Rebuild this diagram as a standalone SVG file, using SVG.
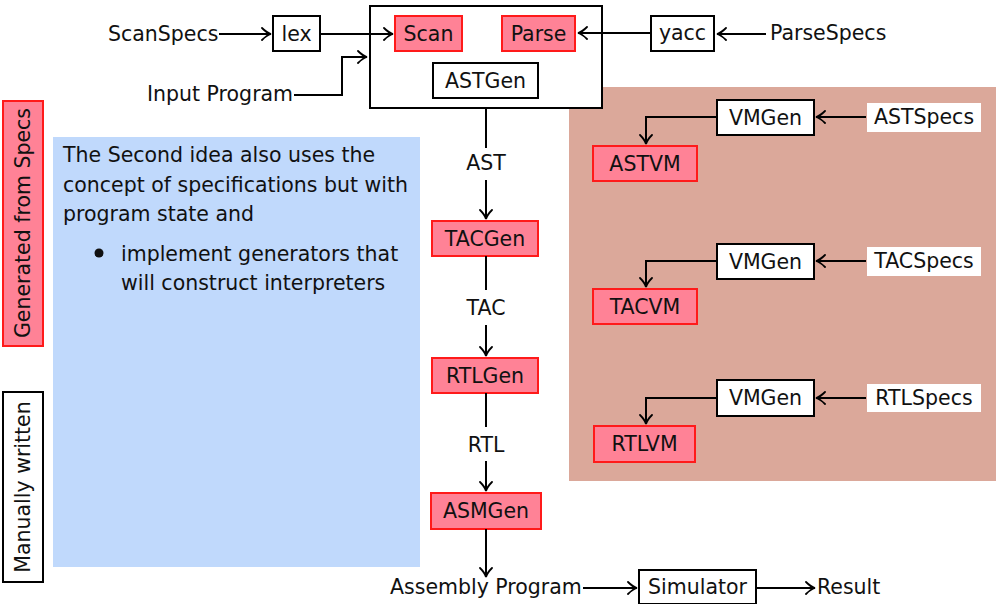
<svg xmlns="http://www.w3.org/2000/svg" width="996" height="604" viewBox="0 0 996 604">
<defs>
<marker id="arr" viewBox="-11 -7 13 14" refX="0" refY="0" markerWidth="13" markerHeight="14" markerUnits="userSpaceOnUse" orient="auto">
<path d="M-9,-6 Q-4,-1 0,0 Q-4,1 -9,6" fill="none" stroke="#000" stroke-width="1.8" stroke-linecap="round"/>
</marker>
</defs>
<style>
text{font-family:"DejaVu Sans","Liberation Sans",sans-serif;font-size:20.5px;fill:#111}
.c{text-anchor:middle}
.pink{fill:#FF8296;stroke:#FF1A1A;stroke-width:2}
.wbox{fill:#fff;stroke:#000;stroke-width:2}
.ln{fill:none;stroke:#000;stroke-width:2}
.ar{fill:none;stroke:#000;stroke-width:2;marker-end:url(#arr)}
</style>
<rect width="996" height="604" fill="#fff"/>

<g id="brown-region"><rect x="569" y="87" width="427" height="394" fill="#DBA89A"/></g>
<g id="blue-note">
<rect x="53" y="137" width="367" height="430" fill="#C0D9FC"/>
<text x="63" y="162">The Second idea also uses the</text>
<text x="63" y="192">concept of specifications but with</text>
<text x="63" y="221">program state and</text>
<circle cx="99" cy="253" r="4.5" fill="#111"/>
<text x="121" y="261">implement generators that</text>
<text x="121" y="290">will construct interpreters</text>
</g>

<g id="legend-generated">
<rect x="3" y="101" width="40" height="245" class="pink"/>
<text class="c" transform="translate(30,223) rotate(-90)">Generated from Specs</text>
</g>
<g id="legend-manual">
<rect x="3" y="392" width="40" height="190" class="wbox"/>
<text class="c" transform="translate(30,487) rotate(-90)">Manually written</text>
</g>

<g id="frontend">
<rect x="370" y="6" width="232" height="102" class="wbox"/>
</g>
<g id="scan"><rect x="395" y="16" width="67" height="35" class="pink"/><text class="c" x="428.5" y="41">Scan</text></g>
<g id="parse"><rect x="502" y="16" width="73" height="35" class="pink"/><text class="c" x="538.5" y="41">Parse</text></g>
<g id="astgen"><rect x="433" y="63" width="105" height="35" class="wbox"/><text class="c" x="485.5" y="88">ASTGen</text></g>
<g id="lex"><rect x="273" y="16" width="47" height="35" class="wbox"/><text class="c" x="296.5" y="41">lex</text></g>
<g id="yacc"><rect x="651" y="16" width="63" height="35" class="wbox"/><text class="c" x="682.5" y="40">yacc</text></g>
<g id="scanspecs"><text x="108" y="41">ScanSpecs</text></g>
<g id="parsespecs"><text x="770" y="40">ParseSpecs</text></g>
<g id="inputprogram"><text x="147" y="101">Input Program</text></g>

<g id="tacgen"><rect x="432" y="221" width="106" height="35" class="pink"/><text class="c" x="485" y="246">TACGen</text></g>
<g id="rtlgen"><rect x="432" y="358" width="106" height="35" class="pink"/><text class="c" x="485" y="383">RTLGen</text></g>
<g id="asmgen"><rect x="431" y="493" width="110" height="36" class="pink"/><text class="c" x="486" y="518">ASMGen</text></g>
<g id="assembly"><text x="390" y="594">Assembly Program</text></g>
<g id="simulator"><rect x="639" y="570" width="117" height="34" class="wbox"/><text class="c" x="697.5" y="594">Simulator</text></g>
<g id="result"><text x="817" y="594">Result</text></g>

<g id="vmgen1"><rect x="717" y="100" width="97" height="35" class="wbox"/><text class="c" x="765.5" y="125">VMGen</text></g>
<g id="astspecs"><rect x="867" y="103" width="114" height="29" fill="#fff"/><text class="c" x="924" y="124">ASTSpecs</text></g>
<g id="astvm"><rect x="593" y="146" width="104" height="35" class="pink"/><text class="c" x="645" y="171">ASTVM</text></g>

<g id="vmgen2"><rect x="717" y="244" width="97" height="35" class="wbox"/><text class="c" x="765.5" y="269">VMGen</text></g>
<g id="tacspecs"><rect x="867" y="247" width="114" height="29" fill="#fff"/><text class="c" x="924" y="268">TACSpecs</text></g>
<g id="tacvm"><rect x="593" y="289" width="104" height="35" class="pink"/><text class="c" x="645" y="314">TACVM</text></g>

<g id="vmgen3"><rect x="717" y="380" width="97" height="36" class="wbox"/><text class="c" x="765.5" y="405">VMGen</text></g>
<g id="rtlspecs"><rect x="867" y="384" width="114" height="28" fill="#fff"/><text class="c" x="924" y="405">RTLSpecs</text></g>
<g id="rtlvm"><rect x="594" y="426" width="101" height="36" class="pink"/><text class="c" x="644.5" y="451">RTLVM</text></g>

<g id="edge-labels">
<text class="c" x="486" y="170">AST</text>
<text class="c" x="486" y="315">TAC</text>
<text class="c" x="486" y="452">RTL</text>
</g>

<g id="connectors">
<line x1="219" y1="34" x2="271" y2="34" class="ar"/>
<line x1="320" y1="34" x2="393" y2="34" class="ar"/>
<polyline points="294,95 342,95 342,57 367,57" class="ar"/>
<line x1="651" y1="33" x2="578" y2="33" class="ar"/>
<line x1="766" y1="34" x2="717" y2="34" class="ar"/>
<line x1="486" y1="108" x2="486" y2="148" class="ln"/>
<line x1="486" y1="180" x2="486" y2="219" class="ar"/>
<line x1="486" y1="256" x2="486" y2="290" class="ln"/>
<line x1="486" y1="325" x2="486" y2="356" class="ar"/>
<line x1="486" y1="393" x2="486" y2="427" class="ln"/>
<line x1="486" y1="461" x2="486" y2="491" class="ar"/>
<line x1="486" y1="529" x2="486" y2="577" class="ar"/>
<line x1="583" y1="588" x2="637" y2="588" class="ar"/>
<line x1="756" y1="588" x2="815" y2="588" class="ar"/>
<line x1="866" y1="117" x2="816" y2="117" class="ar"/>
<polyline points="717,117 646,117 646,144" class="ar"/>
<line x1="866" y1="261" x2="816" y2="261" class="ar"/>
<polyline points="717,261 646,261 646,287" class="ar"/>
<line x1="866" y1="398" x2="816" y2="398" class="ar"/>
<polyline points="717,398 646,398 646,424" class="ar"/>
</g>
</svg>
